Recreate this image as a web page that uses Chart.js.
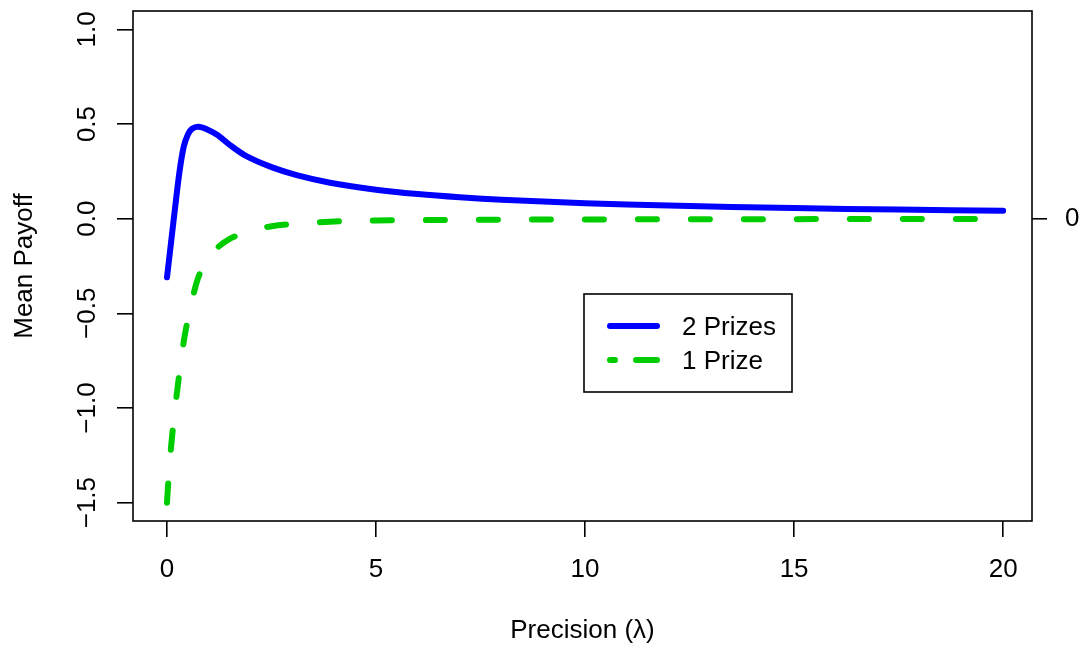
<!DOCTYPE html>
<html>
<head>
<meta charset="utf-8">
<script src="https://cdn.jsdelivr.net/npm/chart.js@4/dist/chart.umd.min.js"></script>
<style>
    html, body { margin: 0; padding: 0; background: #fff; }
    #wrap { width: 1086px; height: 648px; }
</style>
</head>
<body>
<div id="wrap"><canvas id="payoffChart" width="1086" height="648"></canvas></div>
<script>
// values
const lambdaVals = [0, 0.05, 0.1, 0.2, 0.3, 0.4, 0.5, 0.6, 0.75, 0.95, 1.2, 1.5, 1.9, 2.5, 3.1, 3.9, 5, 6, 7, 8, 10, 12, 15, 17.5, 20];
const twoPrizes = [-0.31, -0.215, -0.12, 0.07, 0.25, 0.38, 0.445, 0.475, 0.486, 0.473, 0.443, 0.39, 0.33, 0.272, 0.23, 0.19, 0.153, 0.13, 0.113, 0.10, 0.082, 0.069, 0.056, 0.048, 0.042];
const onePrize = [-1.50, -1.33, -1.20, -0.99, -0.81, -0.65, -0.53, -0.43, -0.31, -0.222, -0.155, -0.107, -0.072, -0.04, -0.027, -0.016, -0.01, -0.008, -0.006, -0.005, -0.004, -0.003, -0.0025, -0.002, -0.002];
const seriesNames = ['2 Prizes', '1 Prize'];
const xTicks = [0, 5, 10, 15, 20];
const yTicks = [-1.5, -1.0, -0.5, 0.0, 0.5, 1.0];
const rightTicks = [0];

const FONT = '"Liberation Sans", Arial, Helvetica, sans-serif';
const FSIZE = 26;
const BLUE = '#0000ff';
const GREEN = '#00cd00';

function toPoints(xs, ys) {
    return xs.map((x, i) => ({ x: x, y: ys[i] }));
}

// box, rotated y labels and legend (R look)
const rStyle = {
    id: 'rStyle',
    afterDraw(chart) {
        const ctx = chart.ctx;
        const a = chart.chartArea;
        const y = chart.scales.y;
        ctx.save();
        ctx.strokeStyle = '#000';
        ctx.lineWidth = 1.6;
        ctx.strokeRect(a.left, a.top, a.right - a.left, a.bottom - a.top);

        // y tick labels turned like in R
        ctx.fillStyle = '#000';
        ctx.font = FSIZE + 'px ' + FONT;
        ctx.textAlign = 'center';
        ctx.textBaseline = 'middle';
        yTicks.forEach(v => {
            ctx.save();
            ctx.translate(88, y.getPixelForValue(v));
            ctx.rotate(-Math.PI / 2);
            ctx.fillText(v.toFixed(1).replace('-', '\u2212'), 0, 0);
            ctx.restore();
        });

        // legend
        const lx = 584, ly = 294, lw = 208, lh = 98;
        ctx.fillStyle = '#fff';
        ctx.fillRect(lx, ly, lw, lh);
        ctx.strokeStyle = '#000';
        ctx.lineWidth = 1.6;
        ctx.strokeRect(lx, ly, lw, lh);
        ctx.lineCap = 'round';
        // sample segments: solid line, then short + long dash
        const samples = [[[610, 657]], [[610, 615], [636, 657]]];
        chart.data.datasets.forEach((ds, i) => {
            const ry = 326 + i * 34;
            ctx.strokeStyle = ds.borderColor;
            ctx.lineWidth = ds.borderWidth;
            samples[i].forEach(seg => {
                ctx.beginPath();
                ctx.moveTo(seg[0], ry);
                ctx.lineTo(seg[1], ry);
                ctx.stroke();
            });
            ctx.fillStyle = '#000';
            ctx.textAlign = 'left';
            ctx.fillText(ds.label, 682, ry + 2);
        });
        ctx.restore();
    }
};

const ctx = document.getElementById('payoffChart').getContext('2d');
const chart = new Chart(ctx, {
    type: 'line',
    data: {
        datasets: [{
            label: seriesNames[0],
            data: toPoints(lambdaVals, twoPrizes),
            borderColor: BLUE,
            borderWidth: 6,
            pointRadius: 0,
            tension: 0.3,
            borderCapStyle: 'round',
            borderJoinStyle: 'round',
            fill: false
        }, {
            label: seriesNames[1],
            data: toPoints(lambdaVals, onePrize),
            borderColor: GREEN,
            borderWidth: 6,
            borderDash: [19, 34],
            pointRadius: 0,
            cubicInterpolationMode: 'monotone',
            borderCapStyle: 'round',
            fill: false
        }]
    },
    options: {
        responsive: false,
        animation: false,
        layout: { padding: { top: 11, left: 0, right: 0, bottom: 0 } },
        plugins: {
            legend: { display: false },
            tooltip: { enabled: false }
        },
        scales: {
            x: {
                type: 'linear',
                min: -0.813,
                max: 20.69,
                afterBuildTicks: s => { s.ticks = xTicks.map(v => ({ value: v })); },
                afterFit: s => { s.height = 127; s.paddingLeft = 0; s.paddingRight = 0; },
                grid: { drawOnChartArea: false, drawTicks: true, tickLength: 16, color: '#000', lineWidth: 1.6 },
                border: { display: false },
                ticks: { color: '#000', font: { family: FONT, size: FSIZE }, padding: 17, maxRotation: 0 },
                title: { display: true, text: 'Precision (λ)', color: '#000', font: { family: FONT, size: FSIZE }, padding: { top: 0, bottom: 2 } }
            },
            y: {
                type: 'linear',
                position: 'left',
                min: -1.597,
                max: 1.097,
                afterBuildTicks: s => { s.ticks = yTicks.map(v => ({ value: v })); },
                afterFit: s => { s.width = 133; s.paddingTop = 0; s.paddingBottom = 0; },
                grid: { drawOnChartArea: false, drawTicks: true, tickLength: 16, color: '#000', lineWidth: 1.6 },
                border: { display: false },
                ticks: { color: 'rgba(0,0,0,0)', font: { family: FONT, size: FSIZE } },
                title: { display: true, text: 'Mean Payoff', color: '#000', font: { family: FONT, size: FSIZE }, padding: { top: 9, bottom: 0 } }
            },
            y2: {
                type: 'linear',
                position: 'right',
                min: -1.597,
                max: 1.097,
                afterBuildTicks: s => { s.ticks = rightTicks.map(v => ({ value: v })); },
                afterFit: s => { s.width = 54; s.paddingTop = 0; s.paddingBottom = 0; },
                grid: { drawOnChartArea: false, drawTicks: true, tickLength: 15, color: '#000', lineWidth: 1.6 },
                border: { display: false },
                ticks: { color: '#000', font: { family: FONT, size: FSIZE }, padding: 18, callback: v => String(v) }
            }
        }
    },
    plugins: [rStyle]
});
</script>
</body>
</html>
